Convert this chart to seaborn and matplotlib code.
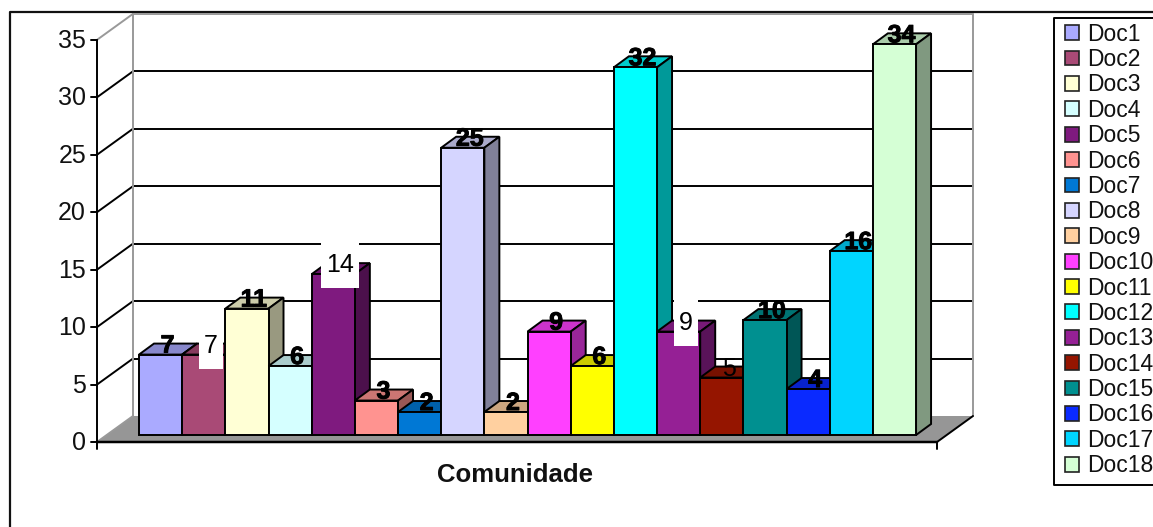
import matplotlib
matplotlib.use("Agg")
import matplotlib.pyplot as plt
import matplotlib.patheffects as pe
from matplotlib.colors import to_rgb
from matplotlib.patches import Polygon, Rectangle
import pandas as pd
import seaborn as sns

docs = [f"Doc{i}" for i in range(1, 19)]
values = [7, 7, 11, 6, 14, 3, 2, 25, 2, 9, 6, 32, 9, 5, 10, 4, 16, 34]
colors = ["#AAAAFF", "#A94A76", "#FFFFD5", "#D5FFFF", "#7F1A7F", "#FF9390",
          "#0078D5", "#D5D5FF", "#FFD0A0", "#FF40FF", "#FFFF00", "#00FFFF",
          "#952095", "#951500", "#009090", "#0A2AFF", "#00D5FF", "#D5FFD5"]
# data label styles as they appear on the chart
plain_labels = ["Doc2", "Doc5", "Doc13", "Doc14"]
boxed_labels = ["Doc2", "Doc5", "Doc13"]
y_ticks = [0, 5, 10, 15, 20, 25, 30, 35]

W, H = 1153, 527
PX_PER_UNIT = 11.49
BAR_W = 43.17
BAR_LEFT, BAR_BASE = 139, 435
AXIS_X, AXIS_BASE = 97, 442
WALL_DX, WALL_DY = 36, -26
FLOOR_W = 840
DEPTH_X, DEPTH_Y = 15, -11
LINE = 1.4

sns.set_theme(style="white")
plt.rcParams["font.family"] = ["Liberation Sans", "DejaVu Sans"]

fig = plt.figure(figsize=(W / 100, H / 100), dpi=100)

# background layer in pixel coordinates: frame, walls, floor, gridlines
bg = fig.add_axes([0, 0, 1, 1])
bg.set_xlim(0, W)
bg.set_ylim(H, 0)
bg.axis("off")

bg.plot([10, 10, W], [H, 12, 12], color="#111111", lw=1.6)
# legend box runs off the right edge of the picture
bg.plot([W, 1054, 1054, W], [18, 18, 485, 485], color="black", lw=LINE)

back_x, back_y = AXIS_X + WALL_DX, AXIS_BASE + WALL_DY
floor = [(AXIS_X, AXIS_BASE), (AXIS_X + FLOOR_W, AXIS_BASE),
         (back_x + FLOOR_W, back_y), (back_x, back_y)]
bg.add_patch(Polygon(floor, facecolor="#969696", edgecolor="none"))

for t in y_ticks:
    y = AXIS_BASE - t * PX_PER_UNIT
    edge = t in (y_ticks[0], y_ticks[-1])
    color = "#999999" if edge else "black"
    bg.plot([AXIS_X, back_x], [y, y + WALL_DY], color=color, lw=LINE)
    if t == y_ticks[-1]:
        bg.plot([back_x, back_x + FLOOR_W], [y + WALL_DY] * 2, color=color, lw=LINE)
    elif t != 0:
        bg.plot([back_x, back_x + FLOOR_W], [y + WALL_DY] * 2, color="black", lw=LINE)
    bg.plot([AXIS_X - 6, AXIS_X], [y, y], color="black", lw=LINE)
    bg.text(86, y + 1, str(t), ha="right", va="center", fontsize=18, color="#111111")

top_y = AXIS_BASE - y_ticks[-1] * PX_PER_UNIT + WALL_DY
bg.plot([back_x, back_x], [top_y, back_y], color="#999999", lw=LINE)
bg.plot([back_x + FLOOR_W] * 2, [top_y, back_y], color="#999999", lw=LINE)
bg.plot([AXIS_X, AXIS_X], [AXIS_BASE - y_ticks[-1] * PX_PER_UNIT, AXIS_BASE + 7],
        color="black", lw=LINE)
bg.plot([AXIS_X, AXIS_X + FLOOR_W], [AXIS_BASE, AXIS_BASE], color="black", lw=LINE + 0.4)
bg.plot([AXIS_X + FLOOR_W, back_x + FLOOR_W], [AXIS_BASE, back_y], color="black", lw=LINE)
bg.plot([AXIS_X + FLOOR_W] * 2, [AXIS_BASE, AXIS_BASE + 7], color="black", lw=LINE)
bg.text(515, 472, "Comunidade", ha="center", va="center_baseline", fontsize=18.5,
        fontweight="bold", color="#111111")

# bar layer: one unit of x is one bar, y is the chart's own scale
ax = fig.add_axes([0, 0, 1, 1], facecolor="none")
df = pd.DataFrame({"doc": docs, "n": values})
sns.barplot(data=df, x="doc", y="n", hue="doc", palette=colors, width=1,
            edgecolor="black", linewidth=LINE, saturation=1, ax=ax, legend=True)
ax.set_xlim(-BAR_LEFT / BAR_W - 0.5, (W - BAR_LEFT) / BAR_W - 0.5)
ax.set_ylim((BAR_BASE - H) / PX_PER_UNIT, BAR_BASE / PX_PER_UNIT)
ax.axis("off")

dx = DEPTH_X / BAR_W
dy = -DEPTH_Y / PX_PER_UNIT
bars = sorted(ax.patches[:len(docs)], key=lambda b: b.get_x())
for i, (bar, doc, val, col) in enumerate(zip(bars, docs, values, colors)):
    x0, x1 = bar.get_x(), bar.get_x() + bar.get_width()
    rgb = to_rgb(col)
    top_col = tuple(c * 0.8 for c in rgb)
    side_col = tuple(c * 0.6 for c in rgb)
    ax.add_patch(Polygon([(x0, val), (x1, val), (x1 + dx, val + dy), (x0 + dx, val + dy)],
                         facecolor=top_col, edgecolor="black", lw=LINE, zorder=3 + 2 * i))
    ax.add_patch(Polygon([(x1, 0), (x1 + dx, dy), (x1 + dx, val + dy), (x1, val)],
                         facecolor=side_col, edgecolor="black", lw=LINE, zorder=3 + 2 * i))
    bar.set_zorder(4 + 2 * i)

    lx = i + 7 / BAR_W
    ly = val + 9 / PX_PER_UNIT
    label = str(val)
    if doc in boxed_labels:
        w = (len(label) * 14 + 10) / BAR_W
        ax.add_patch(Rectangle((lx - w / 2, ly - 23 / PX_PER_UNIT), w, 46 / PX_PER_UNIT,
                               facecolor="white", edgecolor="none", zorder=60))
    if doc in plain_labels:
        ax.text(lx, ly, label, ha="center", va="center", fontsize=18,
                color="black", zorder=61)
    else:
        ax.text(lx, ly, label, ha="center", va="center", fontsize=18,
                fontweight="bold", color="black", zorder=61,
                path_effects=[pe.withStroke(linewidth=0.7, foreground="black")])

sns.move_legend(ax, "upper left", bbox_to_anchor=(1054 / W, 1 - 11.7 / H), title=None,
                fontsize=16.5, frameon=False, borderpad=0.48, borderaxespad=0,
                labelspacing=0.104, handlelength=0.62, handleheight=0.62,
                handletextpad=0.34)
leg = ax.get_legend()
leg.set_zorder(100)
for h in leg.legend_handles:
    h.set_edgecolor("#222222")
    h.set_linewidth(1.2)
for txt in leg.get_texts():
    txt.set_color("#111111")

fig.savefig("out.png", dpi=100)
plt.close(fig)
